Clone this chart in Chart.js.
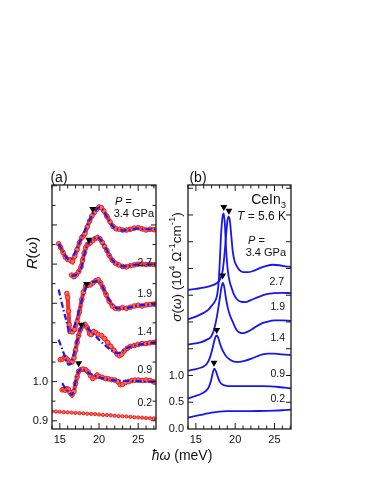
<!DOCTYPE html>
<html>
<head>
<meta charset="utf-8">
<script src="https://cdn.jsdelivr.net/npm/chart.js@4.4.1/dist/chart.umd.min.js"></script>
<style>
  html, body { margin: 0; padding: 0; background: #fff; }
  #wrap { position: relative; width: 374px; height: 484px; }
  #wrap canvas { position: absolute; left: 0; top: 0; }
</style>
</head>
<body>
<div id="wrap">
  <canvas id="chartR" width="374" height="484"></canvas>
  <canvas id="chartS" width="374" height="484"></canvas>
</div>
<script>
// (a) reflectance R(w), curves offset by pressure. red = measured, blue = fit
var red34 = [[14.85,1.352],[15.1,1.343],[15.4,1.330],[15.7,1.318],[16.0,1.312],[16.3,1.310],[16.6,1.306],[16.9,1.320],[17.2,1.337],[17.5,1.355],[17.8,1.368],[18.0,1.372],[18.2,1.378],[18.5,1.395],[18.8,1.410],[19.1,1.423],[19.4,1.432],[19.7,1.440],[20.0,1.446],[20.3,1.444],[20.6,1.436],[21.0,1.422],[21.4,1.408],[21.8,1.396],[22.2,1.390],[22.6,1.389],[23.0,1.387],[23.5,1.387],[24.0,1.389],[24.5,1.392],[25.0,1.393],[25.5,1.390],[26.0,1.387],[26.5,1.389],[27.0,1.388],[27.3,1.387]];
var fit34 = [[14.85,1.352],[15.3,1.335],[15.8,1.318],[16.2,1.312],[16.6,1.318],[17.0,1.332],[17.5,1.355],[18.0,1.378],[18.5,1.400],[19.0,1.420],[19.5,1.436],[20.0,1.444],[20.4,1.440],[20.8,1.428],[21.3,1.410],[21.8,1.396],[22.3,1.389],[23.0,1.386],[24.0,1.388],[25.0,1.391],[26.0,1.389],[27.3,1.389]];
var red27 = [[16.5,1.272],[16.8,1.268],[17.1,1.273],[17.4,1.281],[17.7,1.293],[17.9,1.310],[18.1,1.328],[18.3,1.342],[18.5,1.350],[18.7,1.352],[18.9,1.355],[19.2,1.360],[19.5,1.365],[19.8,1.368],[20.1,1.365],[20.4,1.356],[20.7,1.345],[21.0,1.335],[21.3,1.322],[21.7,1.310],[22.1,1.302],[22.5,1.298],[23.0,1.294],[23.5,1.293],[24.0,1.296],[24.5,1.298],[25.0,1.300],[25.5,1.300],[26.0,1.299],[26.5,1.300],[27.0,1.299],[27.3,1.298]];
var fit27 = [[16.5,1.270],[17.0,1.272],[17.4,1.280],[17.8,1.295],[18.2,1.330],[18.6,1.352],[19.0,1.360],[19.5,1.366],[19.9,1.367],[20.3,1.360],[20.8,1.343],[21.3,1.323],[21.8,1.308],[22.4,1.299],[23.2,1.294],[24.0,1.296],[25.0,1.299],[26.0,1.299],[27.3,1.298]];
var red19 = [[15.9,1.225],[16.0,1.215],[16.1,1.180],[16.2,1.145],[16.3,1.128],[16.6,1.127],[16.9,1.133],[17.2,1.152],[17.5,1.178],[17.8,1.210],[18.0,1.228],[18.3,1.244],[18.6,1.246],[18.9,1.247],[19.2,1.252],[19.6,1.258],[19.9,1.260],[20.2,1.252],[20.5,1.240],[20.9,1.222],[21.3,1.205],[21.7,1.193],[22.1,1.187],[22.5,1.186],[23.0,1.189],[23.5,1.187],[24.0,1.190],[24.5,1.193],[25.0,1.195],[25.5,1.193],[26.0,1.196],[26.5,1.197],[27.0,1.198],[27.3,1.198]];
var fit19 = [[14.85,1.235],[15.2,1.205],[15.5,1.180],[15.9,1.150],[16.2,1.127],[16.5,1.130],[16.9,1.145],[17.3,1.170],[17.7,1.200],[18.1,1.228],[18.5,1.245],[19.0,1.252],[19.5,1.256],[19.9,1.257],[20.3,1.248],[20.8,1.228],[21.3,1.208],[21.8,1.195],[22.4,1.187],[23.0,1.187],[24.0,1.190],[25.0,1.194],[26.0,1.196],[27.3,1.197]];
var red14 = [[15.05,1.056],[15.3,1.057],[15.6,1.062],[15.8,1.060],[16.0,1.055],[16.3,1.050],[16.55,1.050],[16.8,1.060],[17.0,1.080],[17.2,1.100],[17.4,1.118],[17.6,1.132],[17.9,1.142],[18.2,1.146],[18.5,1.138],[18.8,1.122],[19.0,1.120],[19.3,1.128],[19.6,1.125],[19.9,1.120],[20.3,1.118],[20.7,1.110],[21.1,1.100],[21.5,1.090],[21.9,1.080],[22.3,1.070],[22.6,1.066],[22.9,1.070],[23.2,1.078],[23.6,1.085],[24.0,1.090],[24.5,1.092],[25.0,1.095],[25.5,1.097],[26.0,1.097],[26.5,1.099],[27.0,1.100],[27.3,1.101]];
var fit14 = [[14.85,1.107],[15.2,1.088],[15.5,1.072],[15.8,1.055],[16.1,1.043],[16.4,1.046],[16.7,1.065],[17.0,1.088],[17.3,1.112],[17.6,1.133],[17.9,1.143],[18.2,1.143],[18.6,1.136],[19.1,1.125],[19.6,1.115],[20.1,1.105],[20.6,1.096],[21.1,1.087],[21.6,1.079],[22.1,1.074],[22.5,1.073],[23.0,1.078],[23.5,1.085],[24.0,1.089],[25.0,1.094],[26.0,1.097],[27.3,1.100]];
var red09 = [[15.3,0.979],[15.5,0.980],[15.7,0.978],[15.9,0.982],[16.1,0.980],[16.3,0.972],[16.55,0.966],[16.8,0.975],[17.0,0.995],[17.2,1.012],[17.4,1.026],[17.7,1.031],[18.0,1.032],[18.3,1.030],[18.6,1.025],[18.9,1.015],[19.2,1.008],[19.5,1.012],[19.75,1.017],[20.0,1.013],[20.4,1.011],[20.8,1.008],[21.2,1.007],[21.6,1.005],[22.0,1.004],[22.4,1.000],[22.7,0.992],[23.0,0.993],[23.4,0.998],[23.8,1.000],[24.2,1.003],[24.6,1.004],[25.0,1.004],[25.5,1.003],[26.0,1.004],[26.5,1.003],[27.0,0.999],[27.3,0.998]];
var fit09 = [[15.3,0.996],[15.6,0.986],[15.9,0.979],[16.2,0.972],[16.55,0.966],[16.8,0.980],[17.0,1.000],[17.2,1.018],[17.5,1.029],[17.8,1.031],[18.2,1.028],[18.7,1.022],[19.3,1.016],[20.0,1.011],[20.8,1.007],[21.6,1.004],[22.4,1.003],[23.2,1.002],[24.0,1.002],[25.0,1.001],[26.0,1.000],[27.3,1.000]];
var red02 = [[14.0,0.924],[14.5,0.9235],[15.0,0.923],[15.5,0.922],[16.0,0.9215],[16.5,0.921],[17.0,0.920],[17.5,0.9195],[18.0,0.919],[18.5,0.918],[19.0,0.9175],[19.5,0.917],[20.0,0.916],[20.5,0.915],[21.0,0.9145],[21.5,0.914],[22.0,0.913],[22.5,0.912],[23.0,0.9115],[23.5,0.911],[24.0,0.910],[24.5,0.909],[25.0,0.9085],[25.5,0.908],[26.0,0.907],[26.5,0.9065],[27.0,0.906],[27.3,0.9055]];
var markR = [[19.2,1.441],[18.7,1.362],[18.4,1.249],[17.75,1.145],[17.4,1.047]];

// (b) optical conductivity sigma(w), 10^4 /ohm/cm, offset
var sig02 = [[14,0.21],[15,0.245],[16,0.275],[17,0.305],[18,0.325],[19,0.333],[20,0.335],[21,0.335],[22,0.335],[23,0.336],[24,0.338],[25,0.342],[26,0.35],[27.1,0.362]];
var sig09 = [[14,0.57],[14.5,0.595],[15,0.62],[15.5,0.645],[16,0.68],[16.4,0.73],[16.7,0.8],[16.95,0.92],[17.15,1.05],[17.35,1.13],[17.55,1.08],[17.8,0.97],[18.05,0.88],[18.4,0.83],[18.8,0.81],[19.5,0.8],[20.5,0.8],[21.5,0.8],[22.5,0.8],[23.5,0.8],[24.5,0.795],[25.5,0.785],[26.3,0.772],[27.1,0.758]];
var sig14 = [[14,1.09],[14.5,1.105],[15,1.12],[15.5,1.14],[16,1.17],[16.4,1.22],[16.7,1.3],[17.0,1.44],[17.3,1.62],[17.5,1.72],[17.65,1.75],[17.8,1.72],[18.0,1.63],[18.2,1.54],[18.5,1.44],[18.9,1.35],[19.4,1.29],[20.0,1.255],[20.6,1.255],[21.2,1.275],[22.0,1.31],[22.8,1.36],[23.5,1.395],[24.2,1.41],[25.0,1.41],[26.0,1.395],[27.1,1.38]];
var sig19 = [[14,1.58],[15,1.6],[15.8,1.63],[16.4,1.67],[16.95,1.73],[17.3,1.85],[17.65,2.08],[18.0,2.4],[18.2,2.6],[18.42,2.73],[18.6,2.66],[18.85,2.42],[19.1,2.24],[19.4,2.1],[19.7,2.0],[20.1,1.87],[20.5,1.81],[21.0,1.79],[21.6,1.82],[22.4,1.89],[23.2,1.96],[24.0,2.0],[25.0,2.03],[26.0,2.03],[27.1,2.02]];
var sig27 = [[14,2.05],[15,2.1],[16,2.17],[16.6,2.23],[17.0,2.3],[17.4,2.38],[17.7,2.5],[17.9,2.75],[18.05,3.15],[18.2,3.62],[18.38,3.95],[18.53,4.03],[18.68,3.85],[18.85,3.35],[19.05,2.98],[19.3,2.75],[19.5,2.66],[19.8,2.53],[20.2,2.43],[20.7,2.38],[21.3,2.37],[22.0,2.41],[23.0,2.47],[24.0,2.52],[25.0,2.54],[26.0,2.545],[27.1,2.54]];
var sig34 = [[14,2.6],[15,2.62],[16,2.64],[16.8,2.67],[17.6,2.72],[18.1,2.8],[18.4,2.95],[18.6,3.2],[18.85,3.63],[19.02,3.9],[19.17,3.97],[19.32,3.9],[19.5,3.62],[19.7,3.31],[19.9,3.15],[20.1,3.07],[20.5,2.98],[21.0,2.93],[21.6,2.93],[22.4,2.96],[23.2,3.01],[24.0,3.05],[24.8,3.07],[25.6,3.06],[26.4,3.04],[27.1,3.03]];
var markS = [[17.3,1.24],[17.65,1.85],[18.4,2.87],[18.55,4.15],[19.2,4.08]];

var xLabels = [15, 20, 25];
var yLabelsR = [0.9, 1.0];
var yLabelsS = [0, 0.5, 1.0];

var FONT = '"Liberation Sans", Arial, Helvetica, sans-serif';
Chart.defaults.font.family = FONT;
Chart.defaults.color = '#111';

function pts(pairs) {
  return pairs.map(function(p) { return {x: p[0], y: p[1]}; });
}

function redSet(pairs, r) {
  return {
    data: pts(pairs), showLine: true, order: 3,
    borderColor: 'rgba(242,42,38,0.95)', borderWidth: r > 2 ? 4.2 : 1.2,
    pointRadius: r, pointBorderWidth: 1,
    pointBorderColor: 'rgb(236,34,30)', pointBackgroundColor: 'rgb(255,105,95)'
  };
}

function fitSet(pairs) {
  return {
    data: pts(pairs), showLine: true, order: 2, pointRadius: 0,
    borderColor: 'rgb(28,28,232)', borderWidth: 2.2, borderDash: [6, 2.5, 1.5, 2.5],
    cubicInterpolationMode: 'monotone'
  };
}

function sigSet(pairs) {
  return {
    data: pts(pairs), showLine: true, order: 2, pointRadius: 0,
    borderColor: 'rgb(22,22,240)', borderWidth: 1.8,
    cubicInterpolationMode: 'monotone'
  };
}

function markSet(pairs) {
  return {
    data: pts(pairs), showLine: false, order: 0,
    pointStyle: 'triangle', rotation: 180, pointRadius: 4,
    pointBackgroundColor: '#000', pointBorderColor: '#000', pointBorderWidth: 0
  };
}

// text made of pieces: [text, size, italic, dy]
function rich(ctx, parts, x, y, align, rot) {
  ctx.save();
  ctx.translate(x, y);
  if (rot) ctx.rotate(rot);
  ctx.fillStyle = '#111';
  ctx.textBaseline = 'middle';
  ctx.textAlign = 'left';
  var fonts = parts.map(function(p) { return (p[2] ? 'italic ' : '') + p[1] + 'px ' + FONT; });
  var w = 0;
  parts.forEach(function(p, i) { ctx.font = fonts[i]; w += ctx.measureText(p[0]).width; });
  var cx = align === 'right' ? -w : (align === 'left' ? 0 : -w / 2);
  parts.forEach(function(p, i) {
    ctx.font = fonts[i];
    ctx.fillText(p[0], cx, p[3] || 0);
    cx += ctx.measureText(p[0]).width;
  });
  ctx.restore();
}

// frame round the plot area with inward ticks
var frameTicks = {
  id: 'frameTicks',
  afterDraw: function(chart, args, opts) {
    var ctx = chart.ctx, a = chart.chartArea, sx = chart.scales.x, sy = chart.scales.y;
    ctx.save();
    ctx.strokeStyle = '#1a1a1a';
    ctx.lineWidth = 1.3;
    ctx.strokeRect(a.left, a.top, a.right - a.left, a.bottom - a.top);
    ctx.lineWidth = 1;
    ctx.beginPath();
    opts.xt.forEach(function(t) {
      var x = sx.getPixelForValue(t[0]);
      ctx.moveTo(x, a.bottom); ctx.lineTo(x, a.bottom - t[1]);
      ctx.moveTo(x, a.top); ctx.lineTo(x, a.top + t[1]);
    });
    opts.yt.forEach(function(t) {
      var y = sy.getPixelForValue(t[0]);
      ctx.moveTo(a.left, y); ctx.lineTo(a.left + t[1], y);
      ctx.moveTo(a.right, y); ctx.lineTo(a.right - t[1], y);
    });
    ctx.stroke();
    ctx.restore();
    opts.texts.forEach(function(t) { rich(ctx, t.parts, t.x, t.y, t.align, t.rot); });
  }
};

var xTickMarks = [];
for (var e = 14; e <= 27; e++) xTickMarks.push([e, e % 5 === 0 ? 6 : 3.5]);
var yTickMarksR = [];
for (var k = 0; k <= 12; k++) yTickMarksR.push([0.9 + k * 0.05, k % 2 === 0 ? 5 : 3.5]);
var yTickMarksS = [];
for (var j = 1; j <= 9; j++) yTickMarksS.push([j * 0.5, 5]);

function makeOptions(xMax, yMin, yMax, yWidth, padRight, yLabels, marks) {
  return {
    responsive: false, animation: false, events: [],
    layout: { autoPadding: false, padding: { left: 0, top: 185, right: padRight, bottom: 0 } },
    plugins: { legend: { display: false }, tooltip: { enabled: false }, frameTicks: marks },
    scales: {
      x: {
        type: 'linear', min: 14, max: xMax,
        afterFit: function(s) { s.height = 55; },
        afterBuildTicks: function(s) { s.ticks = xLabels.map(function(v) { return {value: v}; }); },
        ticks: { font: { size: 11 }, color: '#111', padding: 4, autoSkip: false, maxRotation: 0,
                 callback: function(v) { return String(v); } },
        grid: { display: false, drawTicks: false }, border: { display: false }
      },
      y: {
        type: 'linear', min: yMin, max: yMax,
        afterFit: function(s) { s.width = yWidth; },
        afterBuildTicks: function(s) { s.ticks = yLabels.map(function(v) { return {value: v}; }); },
        ticks: { font: { size: 11 }, color: '#111', padding: 4, autoSkip: false,
                 callback: function(v) { return v.toFixed(1); } },
        grid: { display: false, drawTicks: false }, border: { display: false }
      }
    }
  };
}

var textsR = [
  { parts: [['(a)', 14]], x: 59, y: 178 },
  { parts: [['P', 11, true], [' =', 11]], x: 115, y: 202, align: 'left' },
  { parts: [['3.4 GPa', 11]], x: 154, y: 214, align: 'right' },
  { parts: [['2.7', 10.5]], x: 152, y: 263, align: 'right' },
  { parts: [['1.9', 10.5]], x: 152, y: 294, align: 'right' },
  { parts: [['1.4', 10.5]], x: 152, y: 332, align: 'right' },
  { parts: [['0.9', 10.5]], x: 152, y: 370, align: 'right' },
  { parts: [['0.2', 10.5]], x: 152, y: 403.5, align: 'right' },
  { parts: [['R', 15, true], ['(', 15], ['ω', 15, true], [')', 15]], x: 33, y: 253, rot: -Math.PI / 2 },
  { parts: [['ħω', 14, true], [' (meV)', 14]], x: 182, y: 456 }
];

var textsS = [
  { parts: [['(b)', 14]], x: 198, y: 178 },
  { parts: [['CeIn', 14], ['3', 9.5, false, 5]], x: 286, y: 200, align: 'right' },
  { parts: [['T', 12, true], [' = 5.6 K', 12]], x: 286, y: 216.5, align: 'right' },
  { parts: [['P', 11, true], [' =', 11]], x: 248, y: 241, align: 'left' },
  { parts: [['3.4 GPa', 11]], x: 286, y: 252.5, align: 'right' },
  { parts: [['2.7', 10.5]], x: 284, y: 281.7, align: 'right' },
  { parts: [['1.9', 10.5]], x: 285, y: 306.7, align: 'right' },
  { parts: [['1.4', 10.5]], x: 285, y: 338.3, align: 'right' },
  { parts: [['0.9', 10.5]], x: 285, y: 374, align: 'right' },
  { parts: [['0.2', 10.5]], x: 285, y: 399.3, align: 'right' },
  { parts: [['σ', 13.5, true], ['(', 13.5], ['ω', 13.5, true], [') (10', 13.5], ['4', 9.5, false, -5],
            [' Ω', 13.5], ['-1', 9.5, false, -5], ['cm', 13.5], ['-1', 9.5, false, -5], [')', 13.5]],
    x: 177, y: 267, rot: -Math.PI / 2 }
];

new Chart(document.getElementById('chartR'), {
  type: 'scatter',
  data: { datasets: [
    markSet(markR),
    fitSet(fit34), fitSet(fit27), fitSet(fit19), fitSet(fit14), fitSet(fit09),
    redSet(red34, 2.3), redSet(red27, 2.3), redSet(red19, 2.3), redSet(red14, 2.3), redSet(red09, 2.3),
    redSet(red02, 1.6)
  ] },
  options: makeOptions(27.27, 0.879, 1.502, 52, 218, yLabelsR,
    { xt: xTickMarks, yt: yTickMarksR, texts: textsR }),
  plugins: [frameTicks]
});

new Chart(document.getElementById('chartS'), {
  type: 'scatter',
  data: { datasets: [
    markSet(markS),
    sigSet(sig34), sigSet(sig27), sigSet(sig19), sigSet(sig14), sigSet(sig09), sigSet(sig02)
  ] },
  options: makeOptions(27.1, 0, 4.56, 188, 83, yLabelsS,
    { xt: xTickMarks, yt: yTickMarksS, texts: textsS }),
  plugins: [frameTicks]
});
</script>
</body>
</html>
